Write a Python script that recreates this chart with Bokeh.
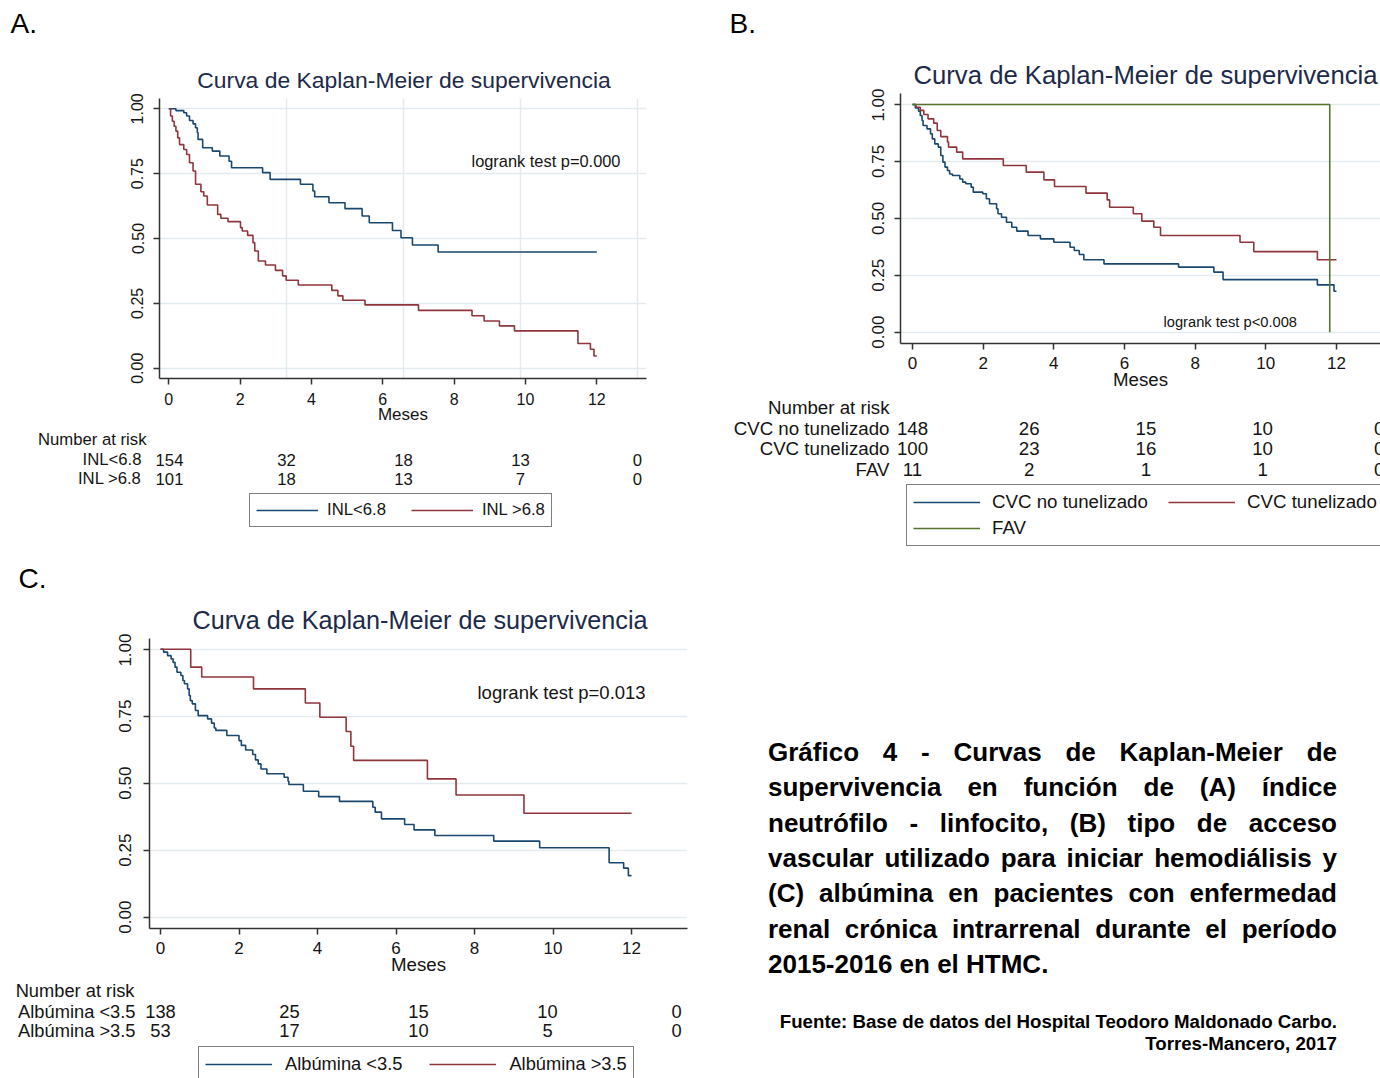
import math
from bokeh.plotting import figure
from bokeh.models import (Range1d, FixedTicker, NumeralTickFormatter, Label,
                          Legend, LegendItem, Span, Div, Plot)
from bokeh.layouts import row, column
from bokeh.embed import file_html
from bokeh.resources import INLINE

FONT = "Liberation Sans"
NAVY, MAROON, GREEN = "#1a476f", "#90353b", "#55752f"
TITLE_COLOR = "#1c2a4a"
TEXT = "#141414"
AXIS = "#333333"
GRID = "#e3ebef"
HAS_FRAME_ALIGN = "frame_align" in Plot.properties()

TITLE_TEXT = "Curva de Kaplan-Meier de supervivencia"
X_LABEL = "Meses"
X_TICKS = [0, 2, 4, 6, 8, 10, 12]
Y_TICKS = [0, 0.25, 0.5, 0.75, 1.0]
RISK_TIMES = [0, 3, 6, 9, 12]
RISK_HEADER = "Number at risk"

# ---------------- Panel A : INL ----------------
A_GROUPS = ["INL<6.8", "INL >6.8"]
A_LOGRANK = "logrank test p=0.000"
A_LOW_T = [0, 0.2, 0.42, 0.5, 0.58, 0.68, 0.75, 0.8, 0.82, 0.95, 1.22, 1.43, 1.69, 1.76,
           2.63, 2.84, 3.69, 4.04, 4.09, 4.49, 4.94, 5.42, 5.62, 6.27, 6.51, 6.83, 7.55, 12]
A_LOW_S = [1, 0.993, 0.985, 0.972, 0.955, 0.942, 0.927, 0.908, 0.882, 0.85, 0.837, 0.818,
           0.798, 0.773, 0.754, 0.728, 0.709, 0.683, 0.661, 0.638, 0.615, 0.587, 0.561,
           0.531, 0.503, 0.475, 0.448, 0.448]
A_HIGH_T = [0, 0.05, 0.1, 0.15, 0.2, 0.25, 0.3, 0.42, 0.5, 0.58, 0.68, 0.75, 0.9, 0.98,
            1.08, 1.37, 1.46, 1.66, 2.01, 2.06, 2.21, 2.36, 2.41, 2.51, 2.71, 2.99, 3.19,
            3.29, 3.63, 4.57, 4.74, 4.88, 5.5, 7.0, 8.5, 8.84, 9.27, 9.69, 11.47, 11.82,
            11.92, 12]
A_HIGH_S = [1, 0.972, 0.952, 0.933, 0.914, 0.888, 0.862, 0.843, 0.824, 0.792, 0.76, 0.709,
            0.68, 0.664, 0.629, 0.593, 0.578, 0.565, 0.542, 0.529, 0.512, 0.484, 0.452,
            0.413, 0.398, 0.377, 0.356, 0.339, 0.321, 0.30, 0.279, 0.262, 0.244, 0.223,
            0.202, 0.182, 0.163, 0.144, 0.095, 0.073, 0.047, 0.047]
A_RISK = [[154, 32, 18, 13, 0], [101, 18, 13, 7, 0]]

# ---------------- Panel B : acceso vascular ----------------
B_GROUPS = ["CVC no tunelizado", "CVC tunelizado", "FAV"]
B_LOGRANK = "logrank test p<0.008"
B_NT_T = [0, 0.08, 0.17, 0.22, 0.27, 0.3, 0.41, 0.51, 0.56, 0.63, 0.73, 0.8, 0.86, 0.92,
          0.99, 1.05, 1.13, 1.34, 1.42, 1.51, 1.66, 1.72, 1.99, 2.09, 2.18, 2.38, 2.42,
          2.52, 2.66, 2.81, 2.95, 3.27, 3.62, 4.0, 4.46, 4.58, 4.72, 4.85, 5.42, 7.53,
          8.53, 8.79, 11.46, 11.93, 12]
B_NT_S = [1, 0.985, 0.971, 0.952, 0.93, 0.908, 0.893, 0.871, 0.849, 0.827, 0.813, 0.776,
          0.747, 0.725, 0.71, 0.695, 0.688, 0.673, 0.659, 0.652, 0.637, 0.615, 0.608,
          0.586, 0.564, 0.542, 0.52, 0.505, 0.483, 0.461, 0.444, 0.425, 0.41, 0.395,
          0.373, 0.359, 0.341, 0.318, 0.30, 0.286, 0.264, 0.231, 0.208, 0.18, 0.18]
B_T_T = [0, 0.1, 0.22, 0.32, 0.44, 0.6, 0.7, 0.8, 0.99, 1.02, 1.25, 1.42, 2.57, 3.22, 3.72,
         4.02, 4.91, 5.51, 5.58, 6.25, 6.49, 6.83, 7.02, 9.27, 9.66, 11.46, 12]
B_T_S = [1, 0.988, 0.974, 0.956, 0.937, 0.918, 0.886, 0.859, 0.835, 0.813, 0.791, 0.761,
         0.732, 0.703, 0.669, 0.64, 0.611, 0.581, 0.549, 0.52, 0.488, 0.461, 0.425, 0.395,
         0.354, 0.318, 0.318]
B_FAV_T = [0, 11.81]
B_FAV_S = [1, 0]
B_RISK = [[148, 26, 15, 10, 0], [100, 23, 16, 10, 0], [11, 2, 1, 1, 0]]

# ---------------- Panel C : albúmina ----------------
C_GROUPS = ["Albúmina <3.5", "Albúmina >3.5"]
C_LOGRANK = "logrank test p=0.013"
C_LOW_T = [0, 0.08, 0.18, 0.27, 0.32, 0.37, 0.42, 0.52, 0.57, 0.61, 0.69, 0.73, 0.76, 0.81,
           0.89, 0.96, 1.2, 1.3, 1.37, 1.41, 1.69, 2.0, 2.06, 2.17, 2.35, 2.42, 2.49, 2.56,
           2.71, 3.15, 3.25, 3.27, 3.64, 4.03, 4.56, 5.41, 5.47, 5.63, 6.22, 6.46, 6.99,
           8.49, 9.66, 11.43, 11.8, 11.92, 12]
C_LOW_S = [1, 0.989, 0.976, 0.964, 0.951, 0.933, 0.914, 0.902, 0.883, 0.871, 0.852, 0.827,
           0.808, 0.796, 0.771, 0.752, 0.74, 0.724, 0.706, 0.697, 0.678, 0.659, 0.641,
           0.624, 0.607, 0.587, 0.572, 0.553, 0.535, 0.522, 0.507, 0.495, 0.47, 0.45,
           0.432, 0.41, 0.392, 0.367, 0.346, 0.326, 0.305, 0.284, 0.259, 0.203, 0.183,
           0.155, 0.155]
C_HIGH_T = [0, 0.77, 1.05, 2.37, 3.69, 4.06, 4.73, 4.85, 4.92, 6.8, 7.53, 9.26, 12]
C_HIGH_S = [1, 0.933, 0.896, 0.852, 0.799, 0.746, 0.693, 0.638, 0.585, 0.516, 0.456,
            0.388, 0.388]
C_RISK = [[138, 25, 15, 10, 0], [53, 17, 10, 5, 0]]

CAPTION = ("Gráfico 4 - Curvas de Kaplan-Meier de supervivencia en función de (A) índice "
           "neutrófilo - linfocito, (B) tipo de acceso vascular utilizado para iniciar "
           "hemodiálisis y (C) albúmina en pacientes con enfermedad renal crónica "
           "intrarrenal durante el período 2015-2016 en el HTMC.")
SOURCE = ["Fuente: Base de datos del Hospital Teodoro Maldonado Carbo.",
          "Torres-Mancero, 2017"]


def no_align(p):
    if HAS_FRAME_ALIGN:
        p.frame_align = False


def blank(W, H, xr, yr, extra_x=None):
    p = figure(width=W, height=H, x_range=xr, y_range=yr, min_border=0,
               min_border_left=0, min_border_right=0, min_border_top=0,
               min_border_bottom=0, x_axis_location=None, y_axis_location=None,
               output_backend="svg", toolbar_location=None, tools="")
    p.outline_line_color = None
    p.background_fill_color = "white"
    p.border_fill_color = "white"
    p.grid.visible = False
    no_align(p)
    if extra_x:
        p.extra_x_ranges = extra_x
    return p


def lab(p, x, y, text, size, align="left", color=TEXT, xname="default", yname="default"):
    p.add_layout(Label(x=x, y=y, x_range_name=xname, y_range_name=yname, text=str(text),
                       text_font=FONT, text_font_size=f"{size}px", text_align=align,
                       text_baseline="middle", text_color=color))


def km(p, t, s, color):
    return p.step(t, s, mode="after", line_color=color, line_width=1.6)


def km_figure(px0, py0, W, H, frame, x0, xk, y0, yk, r0, rk, tick_px, lab_px,
              x_standoff, y_standoff):
    fl, ft, fr, fb = frame
    p = figure(width=W, height=H,
               x_range=Range1d((fl - x0) / xk, (fr - x0) / xk),
               y_range=Range1d((y0 - fb) / yk, (y0 - ft) / yk),
               min_border_left=fl - px0, min_border_right=px0 + W - fr,
               min_border_top=ft - py0, min_border_bottom=py0 + H - fb,
               output_backend="svg", toolbar_location=None, tools="")
    no_align(p)
    p.extra_x_ranges = {"px": Range1d(fl, fr),
                        "risk": Range1d((fl - r0) / rk, (fr - r0) / rk)}
    p.extra_y_ranges = {"py": Range1d(fb, ft)}
    p.outline_line_color = None
    p.background_fill_color = "white"
    p.border_fill_color = "white"
    p.xgrid.visible = False
    p.ygrid.grid_line_color = GRID
    p.ygrid.grid_line_width = 1.5
    p.xaxis.ticker = FixedTicker(ticks=X_TICKS)
    p.yaxis.ticker = FixedTicker(ticks=Y_TICKS)
    p.yaxis.formatter = NumeralTickFormatter(format="0.00")
    p.yaxis.major_label_orientation = "vertical"
    p.xaxis.axis_label = X_LABEL
    p.xaxis.axis_label_text_font = FONT
    p.xaxis.axis_label_text_font_style = "normal"
    p.xaxis.axis_label_text_font_size = f"{lab_px}px"
    p.xaxis.axis_label_text_color = TEXT
    p.xaxis.axis_label_standoff = -3
    for ax in (p.xaxis[0], p.yaxis[0]):
        ax.axis_line_color = AXIS
        ax.axis_line_width = 1.5
        ax.major_tick_line_color = AXIS
        ax.major_tick_line_width = 1.5
        ax.major_tick_out = 6
        ax.major_tick_in = 0
        ax.minor_tick_line_color = None
        ax.major_label_text_font = FONT
        ax.major_label_text_font_size = f"{tick_px}px"
        ax.major_label_text_color = TEXT
    p.xaxis.major_label_standoff = x_standoff
    p.yaxis.major_label_standoff = y_standoff
    return p


def header(px0, py0, W, H, letter, letter_xy, title_xy, title_px):
    p = blank(W, H, Range1d(px0, px0 + W), Range1d(py0 + H, py0))
    lab(p, letter_xy[0], letter_xy[1], letter, 28, color="black")
    lab(p, title_xy[0], title_xy[1], TITLE_TEXT, title_px, align="center", color=TITLE_COLOR)
    return p


def footer(px0, py0, W, H, r0, rk, groups, counts, series, colors, label_right,
           header_right, header_y, row_ys, size, box_left, box_top, box_h, **legkw):
    p = blank(W, H, Range1d((px0 - r0) / rk, (px0 + W - r0) / rk), Range1d(py0 + H, py0),
              extra_x={"px": Range1d(px0, px0 + W)})
    lab(p, header_right, header_y, RISK_HEADER, size, align="right", xname="px")
    for g, cnts, yy in zip(groups, counts, row_ys):
        lab(p, label_right, yy, g, size, align="right", xname="px")
        for t, c in zip(RISK_TIMES, cnts):
            lab(p, t, yy, c, size, align="center")
    # legend swatches: the same survival series (they fall outside this strip's view)
    rends = [km(p, t, s, col) for (t, s), col in zip(series, colors)]
    leg = Legend(items=[LegendItem(label=g, renderers=[r]) for g, r in zip(groups, rends)],
                 location=(box_left - px0, py0 + H - box_top - box_h),
                 border_line_color="black", border_line_width=1,
                 background_fill_color="white", background_fill_alpha=1.0,
                 label_text_font=FONT, label_text_font_size=f"{size}px",
                 label_text_color=TEXT, margin=0, **legkw)
    p.add_layout(leg)
    return p


# ---------------- Panel A ----------------
FA = (159, 98, 646, 378)
ha = header(0, 0, 720, 92, "A.", (10, 23), (403.5, 79), 22.9)
pa = km_figure(0, 92, 720, 338, FA, 168.3, 35.67, 367.7, 259.4, 169, 39.0, 16, 17, 8, 10)
for t in RISK_TIMES[1:]:
    pa.add_layout(Span(location=t, dimension="height", x_range_name="risk",
                       line_color=GRID, line_width=1.5, level="underlay"))
km(pa, A_LOW_T, A_LOW_S, NAVY)
km(pa, A_HIGH_T, A_HIGH_S, MAROON)
lab(pa, 471, 160, A_LOGRANK, 16.4, xname="px", yname="py")
fa = footer(0, 430, 720, 126, 169, 39.0, A_GROUPS, A_RISK,
            [(A_LOW_T, A_LOW_S), (A_HIGH_T, A_HIGH_S)], [NAVY, MAROON],
            141, 146, 439, [459, 478], 16.7, 249, 495, 32,
            orientation="horizontal", glyph_width=62, glyph_height=20, label_height=20,
            label_standoff=9, spacing=25, padding=6)

# ---------------- Panel B ----------------
FB = (900, 93, 1380, 343)
hb = header(720, 0, 660, 88, "B.", (729, 23), (1145, 74), 25.7)
pb = km_figure(720, 88, 660, 307, FB, 912, 35.33, 331.7, 227.7, 912, 38.9, 17, 18.7, 7, 10)
km(pb, B_NT_T, B_NT_S, NAVY)
km(pb, B_T_T, B_T_S, MAROON)
km(pb, B_FAV_T, B_FAV_S, GREEN)
lab(pb, 1163, 321, B_LOGRANK, 14.7, xname="px", yname="py")
fb = footer(720, 395, 660, 161, 912, 38.9, B_GROUPS, B_RISK,
            [(B_NT_T, B_NT_S), (B_T_T, B_T_S), (B_FAV_T, B_FAV_S)], [NAVY, MAROON, GREEN],
            889, 889, 407, [428, 448, 469], 18.7, 906, 486, 60,
            orientation="horizontal", ncols=2, glyph_width=67, glyph_height=22,
            label_height=22, label_width=172, label_standoff=12, spacing=4, padding=6)

# ---------------- Panel C ----------------
FC = (149, 638, 687, 928)
hc = header(0, 556, 720, 77, "C.", (18, 578), (419.5, 619), 25.2)
pc = km_figure(0, 633, 720, 346, FC, 160, 39.25, 916.7, 268.0, 160, 43.0, 17, 18.7, 7, 12)
km(pc, C_LOW_T, C_LOW_S, NAVY)
km(pc, C_HIGH_T, C_HIGH_S, MAROON)
lab(pc, 477, 692, C_LOGRANK, 18.5, xname="px", yname="py")
fc = footer(0, 979, 720, 99, 160, 43.0, C_GROUPS, C_RISK,
            [(C_LOW_T, C_LOW_S), (C_HIGH_T, C_HIGH_S)], [NAVY, MAROON],
            135, 134, 990, [1011, 1030], 18.3, 198, 1048, 34,
            orientation="horizontal", glyph_width=67, glyph_height=22, label_height=22,
            label_standoff=13, spacing=27, padding=6)

# ---------------- Caption ----------------
font_css = "font-family:'Liberation Sans',Arial,sans-serif;font-weight:bold;color:#000;"
html = (
    '<div style="position:relative;width:660px;height:522px;">'
    f'<div style="position:absolute;left:43px;top:174px;width:569px;{font_css}'
    f'font-size:26px;line-height:35.33px;text-align:justify;">{CAPTION}</div>'
    f'<div style="position:absolute;left:43px;top:450px;width:569px;{font_css}'
    f'font-size:18.7px;line-height:22px;text-align:right;">{SOURCE[0]}<br>{SOURCE[1]}</div>'
    '</div>'
)
caption = Div(text=html, width=660, height=522)

layout = row(column(ha, pa, fa, hc, pc, fc), column(hb, pb, fb, caption))
open("out.html", "w").write(file_html(layout, INLINE))
